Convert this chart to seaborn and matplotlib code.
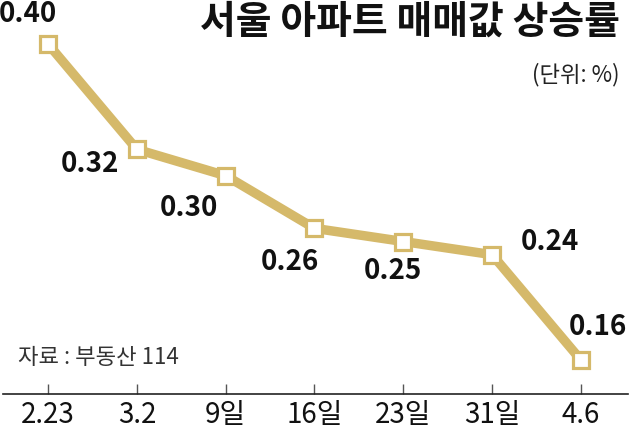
import matplotlib
matplotlib.use("Agg")
import matplotlib.pyplot as plt
import seaborn as sns
import pandas as pd

categories = ["2.23", "3.2", "9일", "16일", "23일", "31일", "4.6"]
values = [0.40, 0.32, 0.30, 0.26, 0.25, 0.24, 0.16]
value_labels = ["0.40", "0.32", "0.30", "0.26", "0.25", "0.24", "0.16"]

sns.set_theme(style="white")
plt.rcParams['font.family'] = ['Noto Sans CJK KR', 'DejaVu Sans']

df = pd.DataFrame({"x": list(range(len(categories))), "v": values})

fig = plt.figure(figsize=(6.31, 4.36), dpi=100)
ax = fig.add_axes([3/631, 1 - 394/436, 625/631, 394/436])

gold = "#D5B96A"
sns.lineplot(data=df, x="x", y="v", ax=ax, color=gold, linewidth=6.8,
             marker="s", markersize=11, markerfacecolor="white",
             markeredgecolor=gold, markeredgewidth=2.3, solid_joinstyle="miter")

ax.set_xlim(-0.507, 6.53)
ax.set_ylim(0.1342, 0.4334)
ax.set_xticks(range(len(categories)))
ax.set_xticklabels(categories, fontsize=20)
ax.set_yticks([])
ax.set_xlabel("")
ax.set_ylabel("")
for s in ["top", "left", "right"]:
    ax.spines[s].set_visible(False)
ax.spines["bottom"].set_color("#222222")
ax.spines["bottom"].set_linewidth(1.2)
ax.tick_params(axis="x", direction="in", length=7, width=1, color="#555555",
               pad=4, labelcolor="#111111", bottom=True)
ax.patch.set_alpha(0)

offsets = [(-20, 30), (-47, -15), (-37, -32), (-25, -34), (-10, -29), (58, 13), (17, 33)]
for i, (v, lab) in enumerate(zip(values, value_labels)):
    ax.annotate(lab, (i, v), xytext=offsets[i], textcoords="offset pixels",
                ha="center", va="center", fontsize=20, fontweight="bold",
                color="#111111")

fig.text(620/631, 1 - 22/436, "서울 아파트 매매값 상승률", ha="right", va="center",
         fontsize=28, fontweight="bold", color="#111111")
fig.text(620/631, 1 - 75/436, "(단위: %)", ha="right", va="center",
         fontsize=16, color="#222222")
fig.text(18/631, 1 - 357/436, "자료 : 부동산 114", ha="left", va="center",
         fontsize=16, color="#333333")

fig.savefig("out.png", dpi=100)
